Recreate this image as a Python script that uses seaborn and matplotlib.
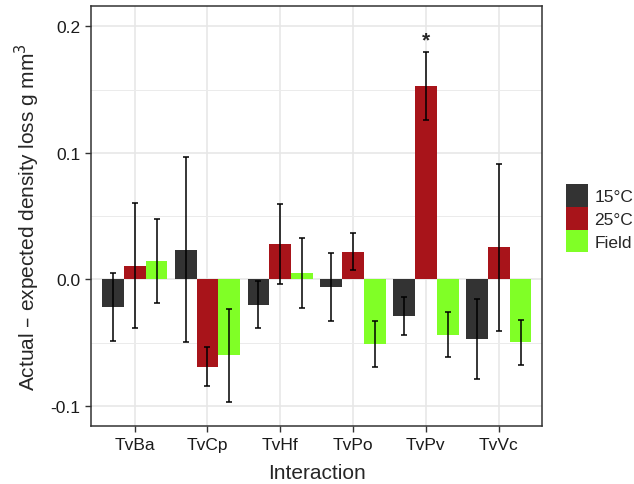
import numpy as np
import pandas as pd
import matplotlib
matplotlib.use("Agg")
import matplotlib.pyplot as plt
from matplotlib.patches import Patch
import seaborn as sns

# --------------------------------------------------------------------------
# Data
# --------------------------------------------------------------------------
interactions = ["TvBa", "TvCp", "TvHf", "TvPo", "TvPv", "TvVc"]
groups = ["15°C", "25°C", "Field"]

mean_15 = [-0.022, 0.0235, -0.020, -0.006, -0.029, -0.047]
mean_25 = [0.011, -0.069, 0.0277, 0.0219, 0.153, 0.0255]
mean_field = [0.0145, -0.060, 0.0053, -0.0508, -0.0435, -0.0496]

se_15 = [0.027, 0.073, 0.0185, 0.0265, 0.015, 0.0313]
se_25 = [0.049, 0.0155, 0.0315, 0.0146, 0.027, 0.066]
se_field = [0.033, 0.037, 0.0277, 0.018, 0.0176, 0.0177]

palette = {"15°C": "#333333", "25°C": "#A8141A", "Field": "#80FF26"}
star_at = ("TvPv", "25°C")

# --------------------------------------------------------------------------
# Build long table
# --------------------------------------------------------------------------
rows = []
for g, means, ses in [("15°C", mean_15, se_15),
                      ("25°C", mean_25, se_25),
                      ("Field", mean_field, se_field)]:
    for inter, m, s in zip(interactions, means, ses):
        rows.append({"interaction": inter, "group": g, "mean": m, "se": s})
df = pd.DataFrame(rows)

# --------------------------------------------------------------------------
# Plot
# --------------------------------------------------------------------------
sns.set_style("white")
plt.rcParams["font.family"] = ["Liberation Sans", "DejaVu Sans"]

fig = plt.figure(figsize=(6.34, 4.85), dpi=100)
ax = fig.add_axes([0.1435, 0.119, 0.712, 0.8666])

sns.barplot(data=df, x="interaction", y="mean", hue="group",
            order=interactions, hue_order=groups, palette=palette,
            width=0.9, errorbar=None, saturation=1, linewidth=0,
            legend=False, ax=ax)

# error bars centred on each bar (patches come out hue by hue)
bars = [p for p in ax.patches if p.get_width() > 0]
for p, (_, r) in zip(bars, df.iterrows()):
    cx = p.get_x() + p.get_width() / 2
    ax.errorbar(cx, r["mean"], yerr=r["se"], color="black", lw=1.1,
                capsize=2.5, capthick=1.1, zorder=4)
    if (r["interaction"], r["group"]) == star_at:
        ax.text(cx, r["mean"] + r["se"] + 0.009, "*", ha="center",
                va="center", fontsize=15, fontweight="bold")

ax.set_ylim(-0.116, 0.216)
ax.set_xlim(-0.6, len(interactions) - 0.4)
ax.set_yticks([-0.1, 0.0, 0.1, 0.2])
ax.set_yticklabels(["-0.1", "0.0", "0.1", "0.2"])
ax.set_yticks([-0.05, 0.05, 0.15], minor=True)

ax.grid(True, which="major", color="#E6E6E6", lw=1.1)
ax.grid(True, which="minor", axis="y", color="#EBEBEB", lw=0.7)
ax.set_axisbelow(True)
for s in ax.spines.values():
    s.set_color("#333333")
    s.set_linewidth(1.1)

ax.tick_params(axis="both", which="major", direction="out", length=4,
               width=1, color="#333333", labelsize=12.5, labelcolor="#1a1a1a",
               left=True, bottom=True)
ax.tick_params(axis="y", which="minor", length=0)

ax.set_xlabel("Interaction", fontsize=15, labelpad=8)
ax.set_ylabel("Actual \u2013 expected density loss g mm$^{3}$", fontsize=15,
              labelpad=6)

handles = [Patch(facecolor=palette[g], edgecolor="none", label=g) for g in groups]
fig.legend(handles=handles, loc="upper left", bbox_to_anchor=(0.892, 0.619),
           frameon=False, fontsize=12.5, handlelength=1.3, handleheight=1.65,
           labelspacing=0.0, handletextpad=0.35, borderpad=0, borderaxespad=0)

fig.savefig("out.png", dpi=100)
